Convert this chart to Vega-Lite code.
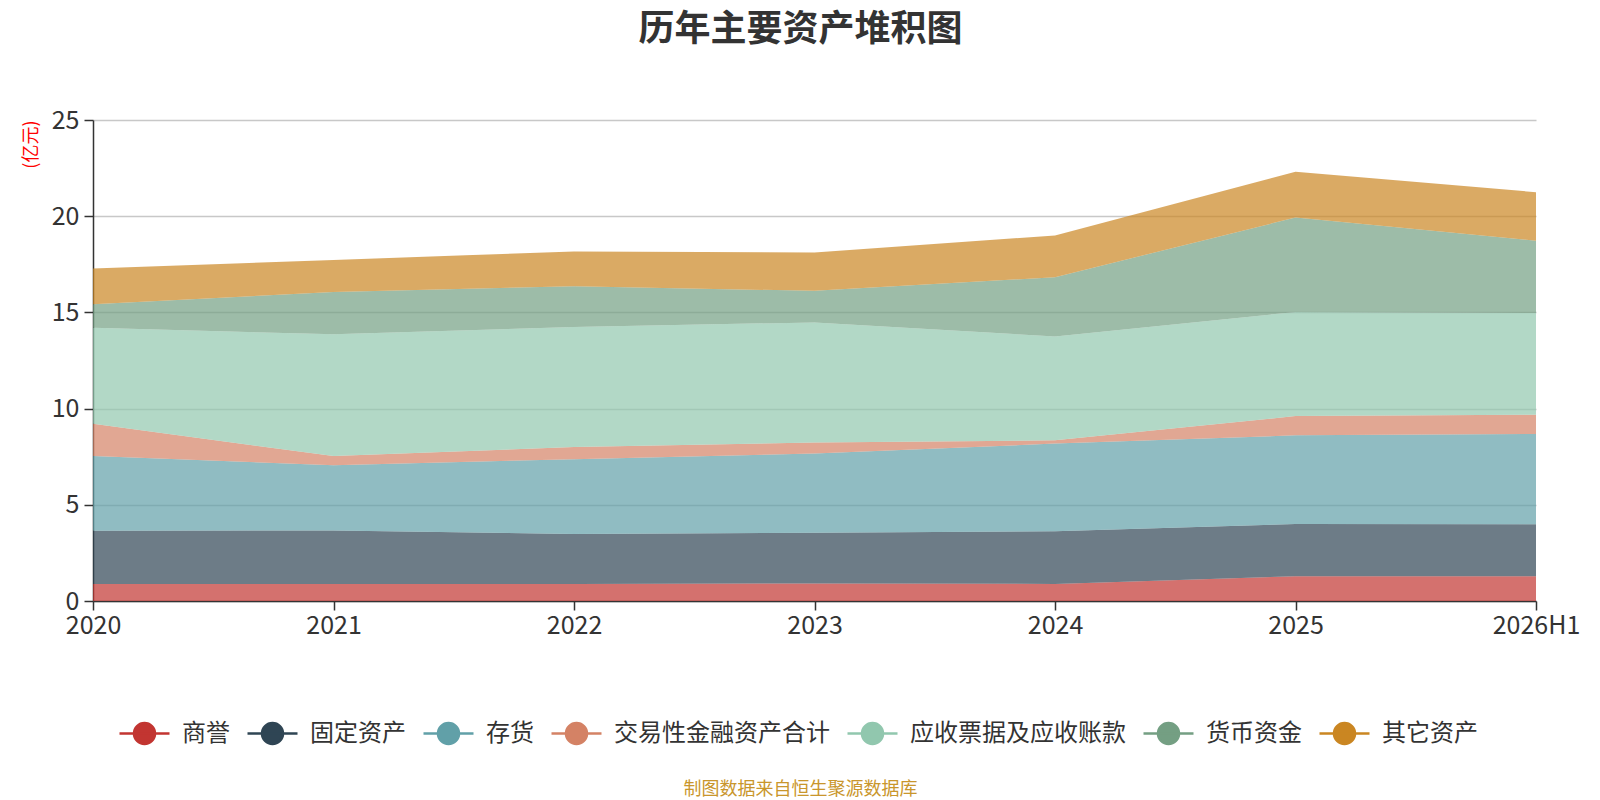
{
  "$schema": "https://vega.github.io/schema/vega-lite/v6.json",
  "description": "历年主要资产堆积图",
  "autosize": {"type": "none"},
  "width": 1443,
  "height": 481,
  "padding": {"left": 93, "top": 120, "right": 64, "bottom": 199},
  "background": "white",
  "title": {
    "text": "历年主要资产堆积图",
    "fontSize": 36,
    "fontWeight": "bold",
    "color": "#333333",
    "font": "Noto Sans CJK SC",
    "anchor": "middle",
    "baseline": "bottom",
    "dx": -14,
    "offset": 23
  },
  "data": {
    "values": [
      {"year": "2020", "series": "商誉", "k": 1, "value": 0.89},
      {"year": "2020", "series": "固定资产", "k": 2, "value": 2.76},
      {"year": "2020", "series": "存货", "k": 3, "value": 3.88},
      {"year": "2020", "series": "交易性金融资产合计", "k": 4, "value": 1.68},
      {"year": "2020", "series": "应收票据及应收账款", "k": 5, "value": 4.99},
      {"year": "2020", "series": "货币资金", "k": 6, "value": 1.22},
      {"year": "2020", "series": "其它资产", "k": 7, "value": 1.86},
      {"year": "2021", "series": "商誉", "k": 1, "value": 0.89},
      {"year": "2021", "series": "固定资产", "k": 2, "value": 2.78},
      {"year": "2021", "series": "存货", "k": 3, "value": 3.39},
      {"year": "2021", "series": "交易性金融资产合计", "k": 4, "value": 0.47},
      {"year": "2021", "series": "应收票据及应收账款", "k": 5, "value": 6.33},
      {"year": "2021", "series": "货币资金", "k": 6, "value": 2.2},
      {"year": "2021", "series": "其它资产", "k": 7, "value": 1.67},
      {"year": "2022", "series": "商誉", "k": 1, "value": 0.89},
      {"year": "2022", "series": "固定资产", "k": 2, "value": 2.59},
      {"year": "2022", "series": "存货", "k": 3, "value": 3.89},
      {"year": "2022", "series": "交易性金融资产合计", "k": 4, "value": 0.63},
      {"year": "2022", "series": "应收票据及应收账款", "k": 5, "value": 6.24},
      {"year": "2022", "series": "货币资金", "k": 6, "value": 2.12},
      {"year": "2022", "series": "其它资产", "k": 7, "value": 1.81},
      {"year": "2023", "series": "商誉", "k": 1, "value": 0.91},
      {"year": "2023", "series": "固定资产", "k": 2, "value": 2.64},
      {"year": "2023", "series": "存货", "k": 3, "value": 4.12},
      {"year": "2023", "series": "交易性金融资产合计", "k": 4, "value": 0.57},
      {"year": "2023", "series": "应收票据及应收账款", "k": 5, "value": 6.24},
      {"year": "2023", "series": "货币资金", "k": 6, "value": 1.64},
      {"year": "2023", "series": "其它资产", "k": 7, "value": 1.99},
      {"year": "2024", "series": "商誉", "k": 1, "value": 0.89},
      {"year": "2024", "series": "固定资产", "k": 2, "value": 2.73},
      {"year": "2024", "series": "存货", "k": 3, "value": 4.56},
      {"year": "2024", "series": "交易性金融资产合计", "k": 4, "value": 0.17},
      {"year": "2024", "series": "应收票据及应收账款", "k": 5, "value": 5.4},
      {"year": "2024", "series": "货币资金", "k": 6, "value": 3.08},
      {"year": "2024", "series": "其它资产", "k": 7, "value": 2.17},
      {"year": "2025", "series": "商誉", "k": 1, "value": 1.29},
      {"year": "2025", "series": "固定资产", "k": 2, "value": 2.71},
      {"year": "2025", "series": "存货", "k": 3, "value": 4.61},
      {"year": "2025", "series": "交易性金融资产合计", "k": 4, "value": 1.0},
      {"year": "2025", "series": "应收票据及应收账款", "k": 5, "value": 5.41},
      {"year": "2025", "series": "货币资金", "k": 6, "value": 4.91},
      {"year": "2025", "series": "其它资产", "k": 7, "value": 2.38},
      {"year": "2026H1", "series": "商誉", "k": 1, "value": 1.29},
      {"year": "2026H1", "series": "固定资产", "k": 2, "value": 2.7},
      {"year": "2026H1", "series": "存货", "k": 3, "value": 4.69},
      {"year": "2026H1", "series": "交易性金融资产合计", "k": 4, "value": 1.0},
      {"year": "2026H1", "series": "应收票据及应收账款", "k": 5, "value": 5.29},
      {"year": "2026H1", "series": "货币资金", "k": 6, "value": 3.76},
      {"year": "2026H1", "series": "其它资产", "k": 7, "value": 2.52}
    ]
  },
  "mark": {"type": "area", "opacity": 0.7, "interpolate": "linear"},
  "encoding": {
    "x": {
      "field": "year",
      "type": "ordinal",
      "sort": null,
      "scale": {"type": "point", "padding": 0},
      "axis": {
        "title": "制图数据来自恒生聚源数据库",
        "titleColor": "#c9962c",
        "titleFontSize": 18,
        "titleFontWeight": "normal",
        "titleFont": "Noto Sans CJK SC",
        "titlePadding": 142,
        "titleX": 707,
        "titleAlign": "center",
        "labelAngle": 0,
        "labelFontSize": 25,
        "labelColor": "#333333",
        "labelPadding": 3,
        "tickSize": 9,
        "tickColor": "#333333",
        "domainColor": "#333333",
        "domainWidth": 1.5,
        "tickWidth": 1.5,
        "grid": false
      }
    },
    "y": {
      "field": "value",
      "type": "quantitative",
      "stack": "zero",
      "scale": {"domain": [0, 25], "nice": false},
      "axis": {
        "values": [0, 5, 10, 15, 20, 25],
        "title": "(亿元)",
        "titleColor": "#ff0000",
        "titleFontSize": 18,
        "titleFontWeight": "normal",
        "titleFont": "Noto Sans CJK SC",
        "titleAnchor": "end",
        "titleAlign": "right",
        "titleAngle": -90,
        "titlePadding": 11,
        "labelFontSize": 25,
        "labelColor": "#333333",
        "labelPadding": 5,
        "tickSize": 9,
        "tickColor": "#333333",
        "tickWidth": 1.5,
        "domainColor": "#333333",
        "domainWidth": 1.5,
        "gridColor": "#c8c8c8",
        "gridWidth": 1.5
      }
    },
    "color": {
      "field": "series",
      "type": "nominal",
      "scale": {
        "domain": ["商誉", "固定资产", "存货", "交易性金融资产合计", "应收票据及应收账款", "货币资金", "其它资产"],
        "range": ["#c23531", "#2f4554", "#61a0a8", "#d48265", "#91c7ae", "#749f83", "#ca8622"]
      },
      "legend": {
        "title": null,
        "orient": "none",
        "direction": "horizontal",
        "legendX": 25,
        "legendY": 587,
        "symbolType": "M-1,0L1,0M0.42,0A0.42,0.42,0,1,1,-0.42,0A0.42,0.42,0,1,1,0.42,0Z",
        "symbolSize": 2500,
        "symbolOpacity": 1,
        "symbolStrokeWidth": 2.5,
        "labelFontSize": 24,
        "labelFont": "Noto Sans CJK SC",
        "labelColor": "#333333",
        "labelOffset": 11,
        "columnPadding": 12,
        "labelLimit": 400,
        "encode": {
          "symbols": {
            "update": {
              "stroke": {"scale": "color", "field": "value"},
              "strokeWidth": {"value": 2.5},
              "opacity": {"value": 1}
            }
          }
        }
      }
    },
    "order": {"field": "k", "type": "quantitative", "sort": "ascending"}
  },
  "config": {
    "font": "Noto Sans CJK SC",
    "view": {"stroke": null},
    "axis": {"labelFont": "Noto Sans CJK SC"}
  }
}
